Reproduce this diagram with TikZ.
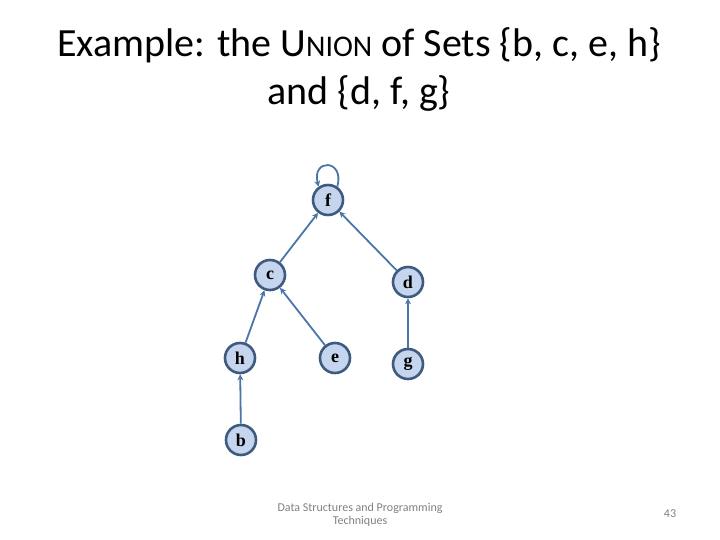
\documentclass[tikz,border=0pt]{standalone}
\usepackage{fontspec}
\setmainfont{Carlito}
\newfontfamily\nodefont{Liberation Serif}
\usetikzlibrary{arrows.meta}
\definecolor{ringblue}{HTML}{3E5A7E}
\definecolor{fillblue}{HTML}{C6D5EE}
\definecolor{edgeblue}{HTML}{4A75A8}
\tikzset{
  setnode/.style={circle, draw=ringblue, line width=2.6pt,
    fill=fillblue, minimum size=30pt, inner sep=0pt,
    font=\nodefont\bfseries\fontsize{18}{18}\selectfont},
  edge/.style={draw=edgeblue, line width=1.8pt, -{Stealth[length=6pt,width=6pt]}}
}
\begin{document}
\begin{tikzpicture}[x=1pt,y=-1pt]
  \useasboundingbox (0,0) rectangle (720,540);
  % title
  \node[font=\fontsize{40}{48}\selectfont, align=center] (title) at (359,69)
    {Example: the U{\fontsize{30}{34}\selectfont NION} of Sets \{b, c, e, h\}\\and \{d, f, g\}};
  % the trees
  \node[setnode] (f) at (328,200) {f};
  \node[setnode] (c) at (270,275) {c};
  \node[setnode] (d) at (408,282) {d};
  \node[setnode] (h) at (240,358) {h};
  \node[setnode] (e) at (335,358) {e};
  \node[setnode] (g) at (408,364) {g};
  \node[setnode] (b) at (241,440) {b};
  \draw[edge] (f.55) to[out=75,in=105,looseness=4] (f.125);
  \draw[edge] (c) -- (f);
  \draw[edge] (d) -- (f);
  \draw[edge] (h) -- (c);
  \draw[edge] (e) -- (c);
  \draw[edge] (g) -- (d);
  \draw[edge] (b) -- (h);
  % footer
  \node[font=\fontsize{12}{13}\selectfont, text=gray, align=center] (foot) at (360,515)
    {Data Structures and Programming\\Techniques};
  \node[font=\fontsize{12}{13}\selectfont, text=gray] (page) at (670,514) {43};
\end{tikzpicture}
\end{document}
